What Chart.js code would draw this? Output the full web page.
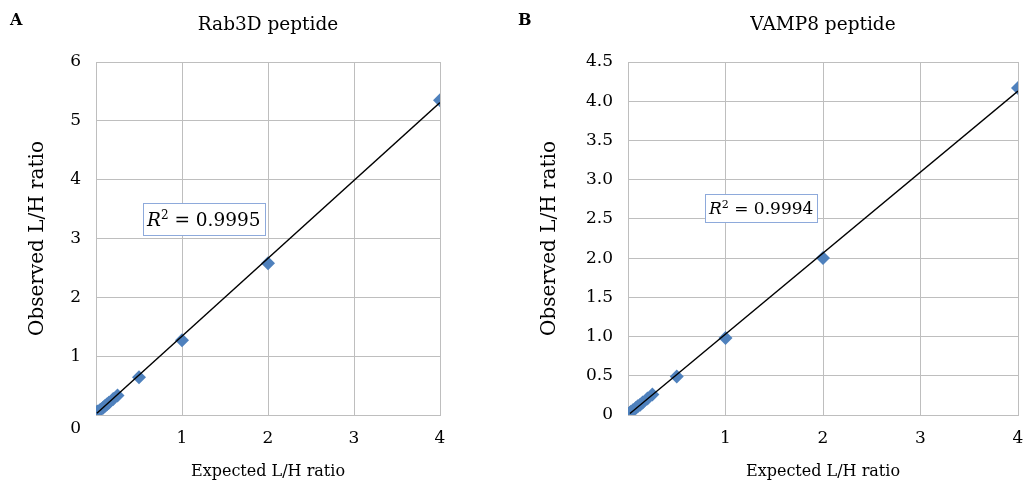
<!DOCTYPE html>
<html><head><meta charset="utf-8">
<script src="https://cdn.jsdelivr.net/npm/chart.js@4.4.1/dist/chart.umd.min.js"></script>
<style>
html,body{margin:0;padding:0;background:#fff;width:1024px;height:484px;overflow:hidden;}
.panel{position:absolute;top:0;height:484px;}
.lbl{position:absolute;top:10px;font:bold 16px "DejaVu Serif";color:#000;}
</style></head><body>
<div class="panel" style="left:0;width:512px"><canvas id="cA" width="512" height="484"></canvas></div>
<div class="panel" style="left:512px;width:540px"><canvas id="cB" width="540" height="484"></canvas></div>
<div class="lbl" style="left:10px">A</div>
<div class="lbl" style="left:518px">B</div>
<script>
// ---- Data ----
const titleA = 'Rab3D peptide';
const titleB = 'VAMP8 peptide';
const xAxisTitle = 'Expected L/H ratio';
const yAxisTitle = 'Observed L/H ratio';

const expectedA = [0.01, 0.02, 0.05, 0.08, 0.1, 0.125, 0.15, 0.2, 0.25, 0.5, 1, 2, 4];
const observedA = [0.05, 0.06, 0.09, 0.12, 0.15, 0.18, 0.21, 0.27, 0.33, 0.64, 1.27, 2.58, 5.35];
const trendXA = [0.01, 4];
const trendYA = [0.03, 5.31];
const r2A = '0.9995';

const expectedB = [0.02, 0.03, 0.05, 0.08, 0.1, 0.125, 0.15, 0.2, 0.25, 0.5, 1, 2, 4];
const observedB = [0.03, 0.04, 0.06, 0.09, 0.11, 0.13, 0.16, 0.21, 0.26, 0.49, 0.98, 2.0, 4.17];
const trendXB = [0.02, 4];
const trendYB = [0.02, 4.13];
const r2B = '0.9994';

const xTicks = [0, 1, 2, 3, 4];
const yTicksA = [0, 1, 2, 3, 4, 5, 6];
const yTicksB = [0, 0.5, 1.0, 1.5, 2.0, 2.5, 3.0, 3.5, 4.0, 4.5];

// ---- Styling ----
const FONT = '"DejaVu Serif", serif';
const GRID = '#BEBEBE';
const MARK = '#4F81BD';

const r2Plugin = {
  id: 'r2box',
  afterDatasetsDraw(chart, args, opts) {
    const {ctx, scales: {x, y}} = chart;
    const px = Math.round(x.getPixelForValue(opts.x));
    const py = Math.round(y.getPixelForValue(opts.y));
    const fs = opts.size;
    ctx.save();
    const it = 'italic ' + fs + 'px ' + FONT, big = fs + 'px ' + FONT, sm = Math.round(fs * 0.65) + 'px ' + FONT;
    ctx.font = it; const wR = ctx.measureText('R').width;
    ctx.font = sm; const w2 = ctx.measureText('2').width;
    const rest = ' = ' + opts.value;
    ctx.font = big; const wRest = ctx.measureText(rest).width;
    const padX = 4, h = opts.h;
    const w = Math.round(wR + w2 + wRest + 2 * padX);
    ctx.fillStyle = '#fff';
    ctx.fillRect(px, py, w, h);
    ctx.strokeStyle = '#8EAADB';
    ctx.lineWidth = 1;
    ctx.strokeRect(px + 0.5, py + 0.5, w, h);
    ctx.fillStyle = '#000';
    ctx.textBaseline = 'alphabetic';
    ctx.textAlign = 'left';
    const base = py + h / 2 + fs * 0.37;
    let cx = px + padX;
    ctx.font = it; ctx.fillText('R', cx, base); cx += wR;
    ctx.font = sm; ctx.fillText('2', cx, base - fs * 0.38); cx += w2;
    ctx.font = big; ctx.fillText(rest, cx, base);
    ctx.restore();
  }
};

const zeroPlugin = {
  id: 'zeroLabel',
  afterDraw(chart, args, opts) {
    if (!opts.shift) return;
    const {ctx, scales: {y}} = chart;
    ctx.save();
    ctx.font = '17px ' + FONT;
    ctx.fillStyle = '#000';
    ctx.textAlign = 'right';
    ctx.textBaseline = 'middle';
    ctx.fillText('0', y.right - 15, y.getPixelForValue(0) + opts.shift);
    ctx.restore();
  }
};

function makeChart(id, title, ex, ob, tx, ty, yTicks, yMax, yFmt, yWidth, padRight, r2, r2pos, zeroShift) {
  return new Chart(document.getElementById(id), {
    type: 'scatter',
    data: {
      datasets: [
        {
          type: 'line',
          label: 'Linear trend',
          data: tx.map((v, i) => ({x: v, y: ty[i]})),
          borderColor: '#000',
          borderWidth: 1.4,
          pointRadius: 0,
          fill: false,
          tension: 0
        },
        {
          label: title,
          data: ex.map((v, i) => ({x: v, y: ob[i]})),
          pointStyle: 'rectRot',
          pointRadius: 7,
          backgroundColor: MARK,
          borderColor: MARK,
          borderWidth: 0
        }
      ]
    },
    options: {
      responsive: false,
      animation: false,
      devicePixelRatio: 1,
      layout: {padding: {left: 0, right: padRight, top: 0, bottom: 0}},
      plugins: {
        legend: {display: false},
        tooltip: {enabled: false},
        title: {
          display: true,
          text: title,
          fullSize: false,
          color: '#000',
          font: {family: FONT, size: 18.5, weight: 'normal', lineHeight: 1.2},
          padding: {top: 14, bottom: 25.8}
        },
        r2box: {x: r2pos[0], y: r2pos[1], value: r2, h: r2pos[2], size: r2pos[3]},
        zeroLabel: {shift: zeroShift}
      },
      scales: {
        x: {
          type: 'linear',
          min: 0, max: 4,
          afterBuildTicks: s => { s.ticks = xTicks.map(v => ({value: v})); },
          afterFit: s => { s.height = 69; },
          ticks: {
            color: '#000',
            font: {family: FONT, size: 17},
            padding: 13,
            maxRotation: 0,
            callback: v => v === 0 ? '' : String(v)
          },
          grid: {color: GRID, lineWidth: 1, drawTicks: false},
          border: {color: GRID, width: 1},
          title: {
            display: true,
            text: xAxisTitle,
            color: '#000',
            font: {family: FONT, size: 16},
            padding: {top: 0, bottom: 3}
          }
        },
        y: {
          type: 'linear',
          min: 0, max: yMax,
          afterBuildTicks: s => { s.ticks = yTicks.map(v => ({value: v})); },
          afterFit: s => { s.width = yWidth; },
          ticks: {
            color: '#000',
            font: {family: FONT, size: 17},
            padding: 15,
            callback: v => (v === 0 ? (zeroShift ? '' : '0') : yFmt(v))
          },
          grid: {color: GRID, lineWidth: 1, drawTicks: false},
          border: {color: GRID, width: 1},
          title: {
            display: true,
            text: yAxisTitle,
            color: '#000',
            font: {family: FONT, size: 20},
            padding: {top: 26, bottom: 0}
          }
        }
      }
    },
    plugins: [r2Plugin, zeroPlugin]
  });
}

makeChart('cA', titleA, expectedA, observedA, trendXA, trendYA, yTicksA, 6,
  v => String(v), 96, 72, r2A, [0.55, 3.6, 32, 18.5], 14);
makeChart('cB', titleB, expectedB, observedB, trendXB, trendYB, yTicksB, 4.5,
  v => v.toFixed(1), 116, 34, r2B, [0.79, 2.82, 28, 17], 0);
</script>
</body></html>
